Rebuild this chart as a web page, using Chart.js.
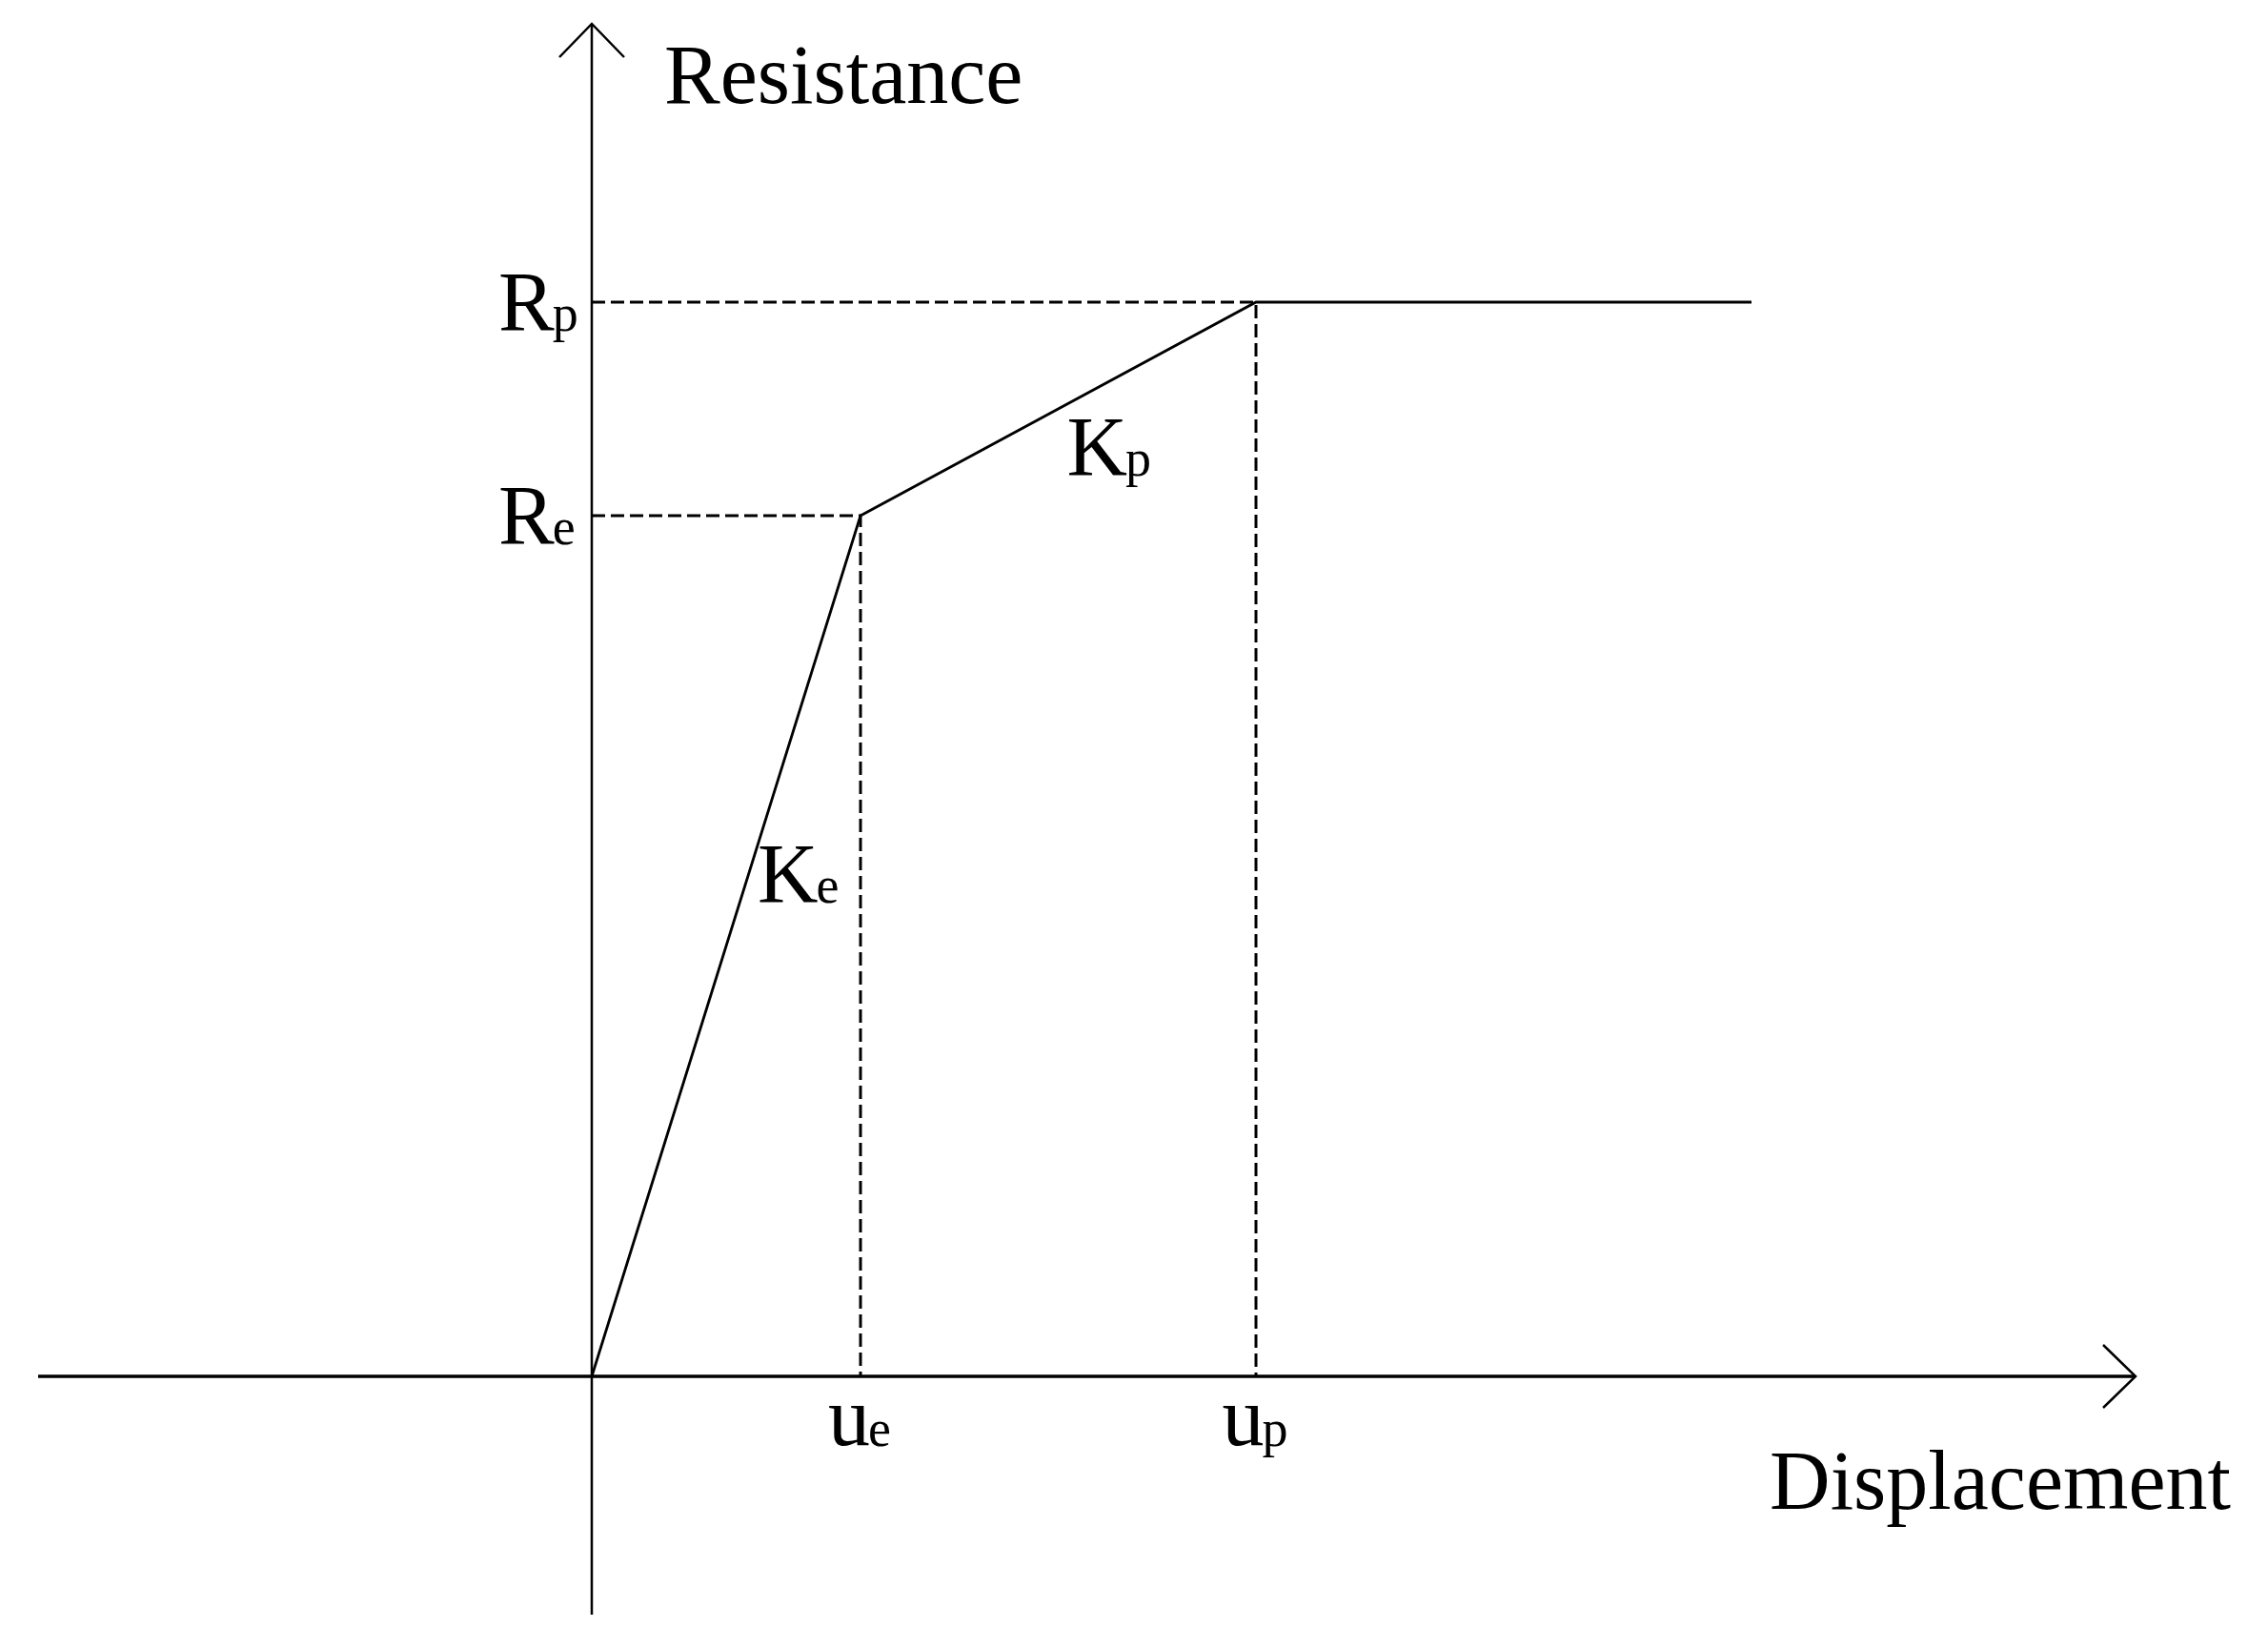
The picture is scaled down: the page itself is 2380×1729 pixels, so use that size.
<!DOCTYPE html>
<html>
<head>
<meta charset="utf-8">
<title>Resistance - Displacement</title>
<script src="https://cdn.jsdelivr.net/npm/chart.js@4/dist/chart.umd.min.js"></script>
<style>
  html, body { margin: 0; padding: 0; background: #fff; }
  canvas { display: block; }
</style>
</head>
<body>
<canvas id="curveChart" width="2380" height="1729"></canvas>
<script>
// bilinear resistance curve (schematic units)
var curveX = [0, 2.82, 6.97, 12.17];
var curveY = [0, 9.03, 11.27, 11.27];

// tick marks on the axes: main letter + subscript
var xTickValues = [2.82, 6.97];
var xTickMain = ["u", "u"];
var xTickSub = ["e", "p"];
var yTickValues = [9.03, 11.27];
var yTickMain = ["R", "R"];
var yTickSub = ["e", "p"];

// stiffness labels for segments 1 and 2
var slopeMain = ["K", "K"];
var slopeSub = ["e", "p"];

var axisTitles = ["Displacement", "Resistance"];
var xRange = [-5.81, 16.2];
var yRange = [-2.5, 14.19];

var FONT = "'Liberation Serif', 'Times New Roman', serif";

function xy(xs, ys) {
  return xs.map(function (x, i) { return { x: x, y: ys[i] }; });
}

// dashed guide: from y-axis across to the point, then down to x-axis
var guides = xTickValues.map(function (xv, i) {
  return {
    data: xy([0, xv, xv], [yTickValues[i], yTickValues[i], 0]),
    borderColor: "#000",
    borderWidth: 3,
    borderDash: [14, 6],
    pointRadius: 0,
    fill: false,
    tension: 0,
  };
});

function subText(ctx, main, sub, x, y, align) {
  ctx.font = "88px " + FONT;
  var w1 = ctx.measureText(main).width;
  ctx.font = "54px " + FONT;
  var w2 = ctx.measureText(sub).width;
  var left = x;
  if (align === "center") left = x - (w1 + w2) / 2;
  ctx.textAlign = "left";
  ctx.textBaseline = "alphabetic";
  ctx.font = "88px " + FONT;
  ctx.fillText(main, left, y);
  ctx.font = "54px " + FONT;
  ctx.fillText(sub, left + w1 - 2, y + 1);
}

var axesPlugin = {
  id: "axesArrows",
  beforeDatasetsDraw: function (chart) {
    var ctx = chart.ctx;
    var xs = chart.scales.x, ys = chart.scales.y;
    var x0 = xs.getPixelForValue(0), y0 = ys.getPixelForValue(0);
    ctx.save();
    ctx.strokeStyle = "#000";
    ctx.lineCap = "butt";
    // x axis
    ctx.lineWidth = 3.5;
    ctx.beginPath();
    ctx.moveTo(xs.left, y0);
    ctx.lineTo(xs.right, y0);
    ctx.stroke();
    ctx.lineWidth = 2.5;
    ctx.beginPath();
    ctx.moveTo(xs.right - 34, y0 - 33);
    ctx.lineTo(xs.right, y0);
    ctx.lineTo(xs.right - 34, y0 + 33);
    ctx.stroke();
    // y axis
    ctx.lineWidth = 2.5;
    ctx.beginPath();
    ctx.moveTo(x0, ys.bottom);
    ctx.lineTo(x0, ys.top);
    ctx.stroke();
    ctx.beginPath();
    ctx.moveTo(x0 - 34, ys.top + 35);
    ctx.lineTo(x0, ys.top);
    ctx.lineTo(x0 + 34, ys.top + 35);
    ctx.stroke();
    ctx.restore();
  },
  afterDatasetsDraw: function (chart) {
    var ctx = chart.ctx;
    var xs = chart.scales.x, ys = chart.scales.y;
    var x0 = xs.getPixelForValue(0), y0 = ys.getPixelForValue(0);
    ctx.save();
    ctx.fillStyle = "#000";

    // axis titles
    ctx.font = "88px " + FONT;
    ctx.textBaseline = "alphabetic";
    ctx.textAlign = "center";
    ctx.fillText(axisTitles[0], xs.right - 142, y0 + 139);
    ctx.textAlign = "left";
    ctx.fillText(axisTitles[1], x0 + 76, ys.top + 83);

    // tick labels
    xTickValues.forEach(function (v, i) {
      subText(ctx, xTickMain[i], xTickSub[i], xs.getPixelForValue(v), y0 + 72, "center");
    });
    yTickValues.forEach(function (v, i) {
      subText(ctx, yTickMain[i], yTickSub[i], x0 - 98, ys.getPixelForValue(v) + 29, "left");
    });

    // slope labels near the middle of each segment
    var offs = [[33, -47], [9, 69]];
    slopeMain.forEach(function (m, i) {
      var mx = xs.getPixelForValue((curveX[i] + curveX[i + 1]) / 2);
      var my = ys.getPixelForValue((curveY[i] + curveY[i + 1]) / 2);
      subText(ctx, m, slopeSub[i], mx + offs[i][0], my + offs[i][1], "left");
    });
    ctx.restore();
  },
};

new Chart(document.getElementById("curveChart").getContext("2d"), {
  type: "line",
  data: {
    datasets: guides.concat([
      {
        data: xy(curveX, curveY),
        borderColor: "#000",
        borderWidth: 2.8,
        pointRadius: 0,
        fill: false,
        tension: 0,
      },
    ]),
  },
  options: {
    responsive: false,
    animation: false,
    devicePixelRatio: 1,
    layout: { padding: { left: 40, right: 139, top: 25, bottom: 35 } },
    plugins: { legend: { display: false }, tooltip: { enabled: false } },
    scales: {
      x: { type: "linear", min: xRange[0], max: xRange[1], display: false },
      y: { type: "linear", min: yRange[0], max: yRange[1], display: false },
    },
  },
  plugins: [axesPlugin],
});
</script>
</body>
</html>
